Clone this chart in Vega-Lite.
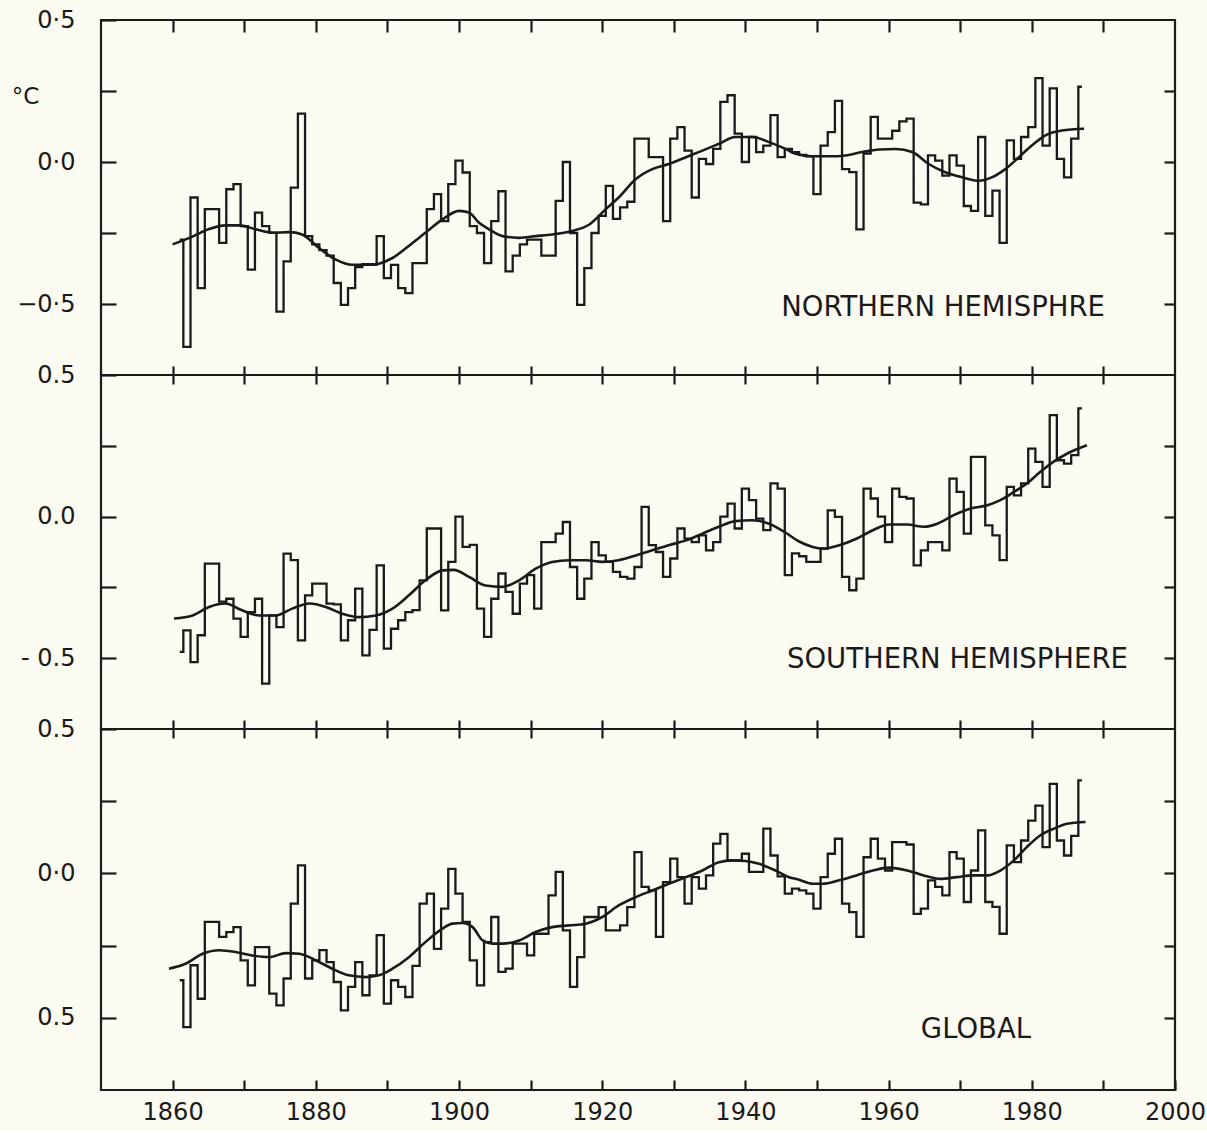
{
  "$schema": "https://vega.github.io/schema/vega-lite/v6.json",
  "background": "#fcfbf2",
  "padding": {"left": 10, "top": 6, "right": 5, "bottom": 5},
  "spacing": 0,
  "bounds": "flush",
  "config": {
    "view": {"stroke": "#1a1a1a", "strokeWidth": 2.2},
    "axis": {"domain": false, "grid": false, "tickColor": "#1a1a1a", "tickWidth": 2.2, "labelColor": "#1a1a1a", "labelFont": "DejaVu Sans", "titleFont": "DejaVu Sans", "titleColor": "#1a1a1a", "titleFontWeight": "normal"},
    "line": {"stroke": "#1a1a1a"},
    "text": {"font": "DejaVu Sans", "fill": "#1a1a1a"}
  },
  "datasets": {
    "nh": [
      {"year":1861,"t":-0.273},{"year":1862,"t":-0.651},{"year":1863,"t":-0.125},{"year":1864,"t":-0.444},{"year":1865,"t":-0.166},{"year":1866,"t":-0.166},{"year":1867,"t":-0.285},{"year":1868,"t":-0.096},{"year":1869,"t":-0.078},{"year":1870,"t":-0.226},
      {"year":1871,"t":-0.379},{"year":1872,"t":-0.178},{"year":1873,"t":-0.226},{"year":1874,"t":-0.249},{"year":1875,"t":-0.527},{"year":1876,"t":-0.35},{"year":1877,"t":-0.09},{"year":1878,"t":0.17},{"year":1879,"t":-0.261},{"year":1880,"t":-0.29},
      {"year":1881,"t":-0.31},{"year":1882,"t":-0.33},{"year":1883,"t":-0.426},{"year":1884,"t":-0.503},{"year":1885,"t":-0.444},{"year":1886,"t":-0.37},{"year":1887,"t":-0.36},{"year":1888,"t":-0.36},{"year":1889,"t":-0.261},{"year":1890,"t":-0.409},
      {"year":1891,"t":-0.362},{"year":1892,"t":-0.444},{"year":1893,"t":-0.462},{"year":1894,"t":-0.356},{"year":1895,"t":-0.356},{"year":1896,"t":-0.166},{"year":1897,"t":-0.113},{"year":1898,"t":-0.208},{"year":1899,"t":-0.078},{"year":1900,"t":0.005},
      {"year":1901,"t":-0.037},{"year":1902,"t":-0.226},{"year":1903,"t":-0.25},{"year":1904,"t":-0.356},{"year":1905,"t":-0.208},{"year":1906,"t":-0.103},{"year":1907,"t":-0.385},{"year":1908,"t":-0.33},{"year":1909,"t":-0.29},{"year":1910,"t":-0.273},
      {"year":1911,"t":-0.273},{"year":1912,"t":-0.33},{"year":1913,"t":-0.33},{"year":1914,"t":-0.137},{"year":1915,"t":0.0},{"year":1916,"t":-0.25},{"year":1917,"t":-0.503},{"year":1918,"t":-0.374},{"year":1919,"t":-0.25},{"year":1920,"t":-0.19},
      {"year":1921,"t":-0.084},{"year":1922,"t":-0.2},{"year":1923,"t":-0.16},{"year":1924,"t":-0.14},{"year":1925,"t":0.082},{"year":1926,"t":0.082},{"year":1927,"t":0.017},{"year":1928,"t":0.017},{"year":1929,"t":-0.208},{"year":1930,"t":0.082},
      {"year":1931,"t":0.123},{"year":1932,"t":0.04},{"year":1933,"t":-0.125},{"year":1934,"t":0.011},{"year":1935,"t":-0.007},{"year":1936,"t":0.046},{"year":1937,"t":0.212},{"year":1938,"t":0.235},{"year":1939,"t":0.1},{"year":1940,"t":0.0},
      {"year":1941,"t":0.088},{"year":1942,"t":0.035},{"year":1943,"t":0.058},{"year":1944,"t":0.165},{"year":1945,"t":0.017},{"year":1946,"t":0.046},{"year":1947,"t":0.035},{"year":1948,"t":0.025},{"year":1949,"t":0.02},{"year":1950,"t":-0.113},
      {"year":1951,"t":0.058},{"year":1952,"t":0.105},{"year":1953,"t":0.215},{"year":1954,"t":-0.025},{"year":1955,"t":-0.036},{"year":1956,"t":-0.237},{"year":1957,"t":0.03},{"year":1958,"t":0.159},{"year":1959,"t":0.082},{"year":1960,"t":0.082},
      {"year":1961,"t":0.11},{"year":1962,"t":0.143},{"year":1963,"t":0.153},{"year":1964,"t":-0.143},{"year":1965,"t":-0.149},{"year":1966,"t":0.023},{"year":1967,"t":0.005},{"year":1968,"t":-0.048},{"year":1969,"t":0.023},{"year":1970,"t":-0.013},
      {"year":1971,"t":-0.155},{"year":1972,"t":-0.172},{"year":1973,"t":0.088},{"year":1974,"t":-0.19},{"year":1975,"t":-0.101},{"year":1976,"t":-0.285},{"year":1977,"t":0.076},{"year":1978,"t":0.011},{"year":1979,"t":0.088},{"year":1980,"t":0.123},
      {"year":1981,"t":0.295},{"year":1982,"t":0.058},{"year":1983,"t":0.259},{"year":1984,"t":0.011},{"year":1985,"t":-0.054},{"year":1986,"t":0.082},{"year":1987,"t":0.265}
    ],
    "nh_smooth": [
      {"year":1860,"t":-0.29},{"year":1863,"t":-0.26},{"year":1865,"t":-0.237},{"year":1867.4,"t":-0.223},{"year":1869.3,"t":-0.223},{"year":1871.6,"t":-0.237},{"year":1873.9,"t":-0.249},{"year":1876.3,"t":-0.247},{"year":1878.1,"t":-0.255},{"year":1880.4,"t":-0.302},
      {"year":1882.8,"t":-0.344},{"year":1885.1,"t":-0.362},{"year":1887.9,"t":-0.362},{"year":1890.7,"t":-0.338},{"year":1893.5,"t":-0.285},{"year":1895.3,"t":-0.249},{"year":1897.7,"t":-0.202},{"year":1900,"t":-0.172},{"year":1901.4,"t":-0.178},{"year":1902.8,"t":-0.214},
      {"year":1904.2,"t":-0.237},{"year":1906.1,"t":-0.261},{"year":1908.4,"t":-0.267},{"year":1910.7,"t":-0.261},{"year":1913,"t":-0.255},{"year":1915.8,"t":-0.243},{"year":1918.2,"t":-0.22},{"year":1920.5,"t":-0.166},{"year":1922.3,"t":-0.125},{"year":1924.7,"t":-0.06},
      {"year":1927,"t":-0.025},{"year":1929.3,"t":-0.007},{"year":1931.7,"t":0.017},{"year":1934,"t":0.04},{"year":1936.3,"t":0.064},{"year":1938.6,"t":0.088},{"year":1941,"t":0.088},{"year":1943.3,"t":0.07},{"year":1945.6,"t":0.046},{"year":1947,"t":0.029},
      {"year":1949.4,"t":0.02},{"year":1951.7,"t":0.02},{"year":1954,"t":0.023},{"year":1956.3,"t":0.035},{"year":1958.7,"t":0.044},{"year":1961,"t":0.046},{"year":1963.3,"t":0.035},{"year":1965.6,"t":-0.007},{"year":1967.9,"t":-0.036},{"year":1970.3,"t":-0.054},
      {"year":1972.6,"t":-0.066},{"year":1974.4,"t":-0.054},{"year":1976.3,"t":-0.025},{"year":1978.2,"t":0.017},{"year":1980,"t":0.058},{"year":1981.9,"t":0.094},{"year":1984.2,"t":0.111},{"year":1987.3,"t":0.117}
    ],
    "sh": [
      {"year":1861,"t":-0.478},{"year":1862,"t":-0.402},{"year":1863,"t":-0.514},{"year":1864,"t":-0.419},{"year":1865,"t":-0.166},{"year":1866,"t":-0.166},{"year":1867,"t":-0.3},{"year":1868,"t":-0.29},{"year":1869,"t":-0.36},{"year":1870,"t":-0.425},
      {"year":1871,"t":-0.337},{"year":1872,"t":-0.29},{"year":1873,"t":-0.59},{"year":1874,"t":-0.349},{"year":1875,"t":-0.39},{"year":1876,"t":-0.131},{"year":1877,"t":-0.154},{"year":1878,"t":-0.437},{"year":1879,"t":-0.278},{"year":1880,"t":-0.237},
      {"year":1881,"t":-0.237},{"year":1882,"t":-0.307},{"year":1883,"t":-0.31},{"year":1884,"t":-0.437},{"year":1885,"t":-0.366},{"year":1886,"t":-0.254},{"year":1887,"t":-0.49},{"year":1888,"t":-0.4},{"year":1889,"t":-0.172},{"year":1890,"t":-0.466},
      {"year":1891,"t":-0.396},{"year":1892,"t":-0.366},{"year":1893,"t":-0.337},{"year":1894,"t":-0.33},{"year":1895,"t":-0.225},{"year":1896,"t":-0.042},{"year":1897,"t":-0.042},{"year":1898,"t":-0.331},{"year":1899,"t":-0.16},{"year":1900,"t":0.0},
      {"year":1901,"t":-0.107},{"year":1902,"t":-0.1},{"year":1903,"t":-0.325},{"year":1904,"t":-0.425},{"year":1905,"t":-0.29},{"year":1906,"t":-0.201},{"year":1907,"t":-0.266},{"year":1908,"t":-0.343},{"year":1909,"t":-0.237},{"year":1910,"t":-0.207},
      {"year":1911,"t":-0.325},{"year":1912,"t":-0.09},{"year":1913,"t":-0.09},{"year":1914,"t":-0.06},{"year":1915,"t":-0.019},{"year":1916,"t":-0.178},{"year":1917,"t":-0.29},{"year":1918,"t":-0.219},{"year":1919,"t":-0.09},{"year":1920,"t":-0.137},
      {"year":1921,"t":-0.16},{"year":1922,"t":-0.195},{"year":1923,"t":-0.213},{"year":1924,"t":-0.219},{"year":1925,"t":-0.178},{"year":1926,"t":0.034},{"year":1927,"t":-0.101},{"year":1928,"t":-0.125},{"year":1929,"t":-0.213},{"year":1930,"t":-0.148},
      {"year":1931,"t":-0.042},{"year":1932,"t":-0.078},{"year":1933,"t":-0.09},{"year":1934,"t":-0.066},{"year":1935,"t":-0.119},{"year":1936,"t":-0.09},{"year":1937,"t":0.0},{"year":1938,"t":0.046},{"year":1939,"t":-0.042},{"year":1940,"t":0.099},
      {"year":1941,"t":0.058},{"year":1942,"t":-0.007},{"year":1943,"t":-0.048},{"year":1944,"t":0.117},{"year":1945,"t":0.099},{"year":1946,"t":-0.207},{"year":1947,"t":-0.13},{"year":1948,"t":-0.14},{"year":1949,"t":-0.16},{"year":1950,"t":-0.16},
      {"year":1951,"t":-0.113},{"year":1952,"t":0.022},{"year":1953,"t":-0.001},{"year":1954,"t":-0.213},{"year":1955,"t":-0.26},{"year":1956,"t":-0.219},{"year":1957,"t":0.099},{"year":1958,"t":0.064},{"year":1959,"t":0.0},{"year":1960,"t":-0.09},
      {"year":1961,"t":0.099},{"year":1962,"t":0.07},{"year":1963,"t":0.064},{"year":1964,"t":-0.172},{"year":1965,"t":-0.119},{"year":1966,"t":-0.09},{"year":1967,"t":-0.09},{"year":1968,"t":-0.119},{"year":1969,"t":0.134},{"year":1970,"t":0.087},
      {"year":1971,"t":-0.06},{"year":1972,"t":0.211},{"year":1973,"t":0.211},{"year":1974,"t":-0.031},{"year":1975,"t":-0.066},{"year":1976,"t":-0.154},{"year":1977,"t":0.105},{"year":1978,"t":0.075},{"year":1979,"t":0.117},{"year":1980,"t":0.24},
      {"year":1981,"t":0.193},{"year":1982,"t":0.105},{"year":1983,"t":0.358},{"year":1984,"t":0.199},{"year":1985,"t":0.187},{"year":1986,"t":0.217},{"year":1987,"t":0.382}
    ],
    "sh_smooth": [
      {"year":1860.2,"t":-0.36},{"year":1862.8,"t":-0.349},{"year":1865.1,"t":-0.319},{"year":1867.4,"t":-0.307},{"year":1869.7,"t":-0.331},{"year":1872.1,"t":-0.349},{"year":1874.4,"t":-0.349},{"year":1876.7,"t":-0.325},{"year":1879.1,"t":-0.307},{"year":1881.4,"t":-0.319},
      {"year":1883.7,"t":-0.343},{"year":1886,"t":-0.355},{"year":1888.4,"t":-0.349},{"year":1890.7,"t":-0.325},{"year":1893,"t":-0.278},{"year":1895.3,"t":-0.225},{"year":1897.7,"t":-0.19},{"year":1899.3,"t":-0.188},{"year":1901.4,"t":-0.213},{"year":1903.7,"t":-0.243},
      {"year":1906.1,"t":-0.248},{"year":1908.4,"t":-0.225},{"year":1910.7,"t":-0.184},{"year":1913,"t":-0.16},{"year":1915.4,"t":-0.154},{"year":1917.7,"t":-0.154},{"year":1920,"t":-0.16},{"year":1922.3,"t":-0.154},{"year":1924.7,"t":-0.137},{"year":1927,"t":-0.119},
      {"year":1929.3,"t":-0.101},{"year":1931.7,"t":-0.084},{"year":1934,"t":-0.06},{"year":1936.3,"t":-0.036},{"year":1938.6,"t":-0.016},{"year":1941,"t":-0.013},{"year":1943.3,"t":-0.025},{"year":1945.5,"t":-0.055},{"year":1947.5,"t":-0.088},{"year":1949.4,"t":-0.107},
      {"year":1950.8,"t":-0.113},{"year":1953.1,"t":-0.101},{"year":1955.5,"t":-0.078},{"year":1957.8,"t":-0.048},{"year":1960.1,"t":-0.028},{"year":1962.6,"t":-0.028},{"year":1964.9,"t":-0.036},{"year":1966.8,"t":-0.025},{"year":1969.1,"t":0.005},{"year":1971.4,"t":0.028},
      {"year":1973.8,"t":0.04},{"year":1975.6,"t":0.058},{"year":1977.5,"t":0.087},{"year":1979.3,"t":0.117},{"year":1981.2,"t":0.158},{"year":1983,"t":0.193},{"year":1984.9,"t":0.222},{"year":1987.7,"t":0.252}
    ],
    "gl": [
      {"year":1861,"t":-0.37},{"year":1862,"t":-0.532},{"year":1863,"t":-0.318},{"year":1864,"t":-0.434},{"year":1865,"t":-0.168},{"year":1866,"t":-0.168},{"year":1867,"t":-0.22},{"year":1868,"t":-0.203},{"year":1869,"t":-0.186},{"year":1870,"t":-0.301},
      {"year":1871,"t":-0.388},{"year":1872,"t":-0.255},{"year":1873,"t":-0.255},{"year":1874,"t":-0.416},{"year":1875,"t":-0.457},{"year":1876,"t":-0.364},{"year":1877,"t":-0.105},{"year":1878,"t":0.028},{"year":1879,"t":-0.364},{"year":1880,"t":-0.301},
      {"year":1881,"t":-0.266},{"year":1882,"t":-0.307},{"year":1883,"t":-0.376},{"year":1884,"t":-0.474},{"year":1885,"t":-0.393},{"year":1886,"t":-0.307},{"year":1887,"t":-0.422},{"year":1888,"t":-0.353},{"year":1889,"t":-0.214},{"year":1890,"t":-0.451},
      {"year":1891,"t":-0.37},{"year":1892,"t":-0.393},{"year":1893,"t":-0.428},{"year":1894,"t":-0.32},{"year":1895,"t":-0.105},{"year":1896,"t":-0.07},{"year":1897,"t":-0.261},{"year":1898,"t":-0.122},{"year":1899,"t":0.016},{"year":1900,"t":-0.07},
      {"year":1901,"t":-0.168},{"year":1902,"t":-0.301},{"year":1903,"t":-0.388},{"year":1904,"t":-0.238},{"year":1905,"t":-0.151},{"year":1906,"t":-0.341},{"year":1907,"t":-0.33},{"year":1908,"t":-0.243},{"year":1909,"t":-0.243},{"year":1910,"t":-0.284},
      {"year":1911,"t":-0.209},{"year":1912,"t":-0.209},{"year":1913,"t":-0.076},{"year":1914,"t":0.005},{"year":1915,"t":-0.197},{"year":1916,"t":-0.393},{"year":1917,"t":-0.29},{"year":1918,"t":-0.151},{"year":1919,"t":-0.151},{"year":1920,"t":-0.117},
      {"year":1921,"t":-0.197},{"year":1922,"t":-0.197},{"year":1923,"t":-0.18},{"year":1924,"t":-0.117},{"year":1925,"t":0.074},{"year":1926,"t":-0.047},{"year":1927,"t":-0.059},{"year":1928,"t":-0.22},{"year":1929,"t":-0.03},{"year":1930,"t":0.051},
      {"year":1931,"t":-0.013},{"year":1932,"t":-0.105},{"year":1933,"t":-0.013},{"year":1934,"t":-0.053},{"year":1935,"t":-0.007},{"year":1936,"t":0.103},{"year":1937,"t":0.137},{"year":1938,"t":0.045},{"year":1939,"t":0.045},{"year":1940,"t":0.068},
      {"year":1941,"t":0.005},{"year":1942,"t":0.005},{"year":1943,"t":0.155},{"year":1944,"t":0.062},{"year":1945,"t":-0.01},{"year":1946,"t":-0.07},{"year":1947,"t":-0.053},{"year":1948,"t":-0.059},{"year":1949,"t":-0.07},{"year":1950,"t":-0.122},
      {"year":1951,"t":-0.013},{"year":1952,"t":0.068},{"year":1953,"t":0.12},{"year":1954,"t":-0.105},{"year":1955,"t":-0.134},{"year":1956,"t":-0.22},{"year":1957,"t":0.056},{"year":1958,"t":0.12},{"year":1959,"t":0.051},{"year":1960,"t":0.01},
      {"year":1961,"t":0.108},{"year":1962,"t":0.108},{"year":1963,"t":0.1},{"year":1964,"t":-0.14},{"year":1965,"t":-0.122},{"year":1966,"t":-0.024},{"year":1967,"t":-0.047},{"year":1968,"t":-0.076},{"year":1969,"t":0.074},{"year":1970,"t":0.051},
      {"year":1971,"t":-0.099},{"year":1972,"t":0.01},{"year":1973,"t":0.149},{"year":1974,"t":-0.099},{"year":1975,"t":-0.116},{"year":1976,"t":-0.209},{"year":1977,"t":0.097},{"year":1978,"t":0.039},{"year":1979,"t":0.114},{"year":1980,"t":0.183},
      {"year":1981,"t":0.235},{"year":1982,"t":0.091},{"year":1983,"t":0.31},{"year":1984,"t":0.114},{"year":1985,"t":0.062},{"year":1986,"t":0.13},{"year":1987,"t":0.322}
    ],
    "gl_smooth": [
      {"year":1859.5,"t":-0.33},{"year":1861.8,"t":-0.313},{"year":1864.2,"t":-0.278},{"year":1866.5,"t":-0.266},{"year":1868.8,"t":-0.272},{"year":1871.1,"t":-0.284},{"year":1873.5,"t":-0.29},{"year":1875.8,"t":-0.276},{"year":1877.7,"t":-0.278},{"year":1880,"t":-0.301},
      {"year":1882.3,"t":-0.33},{"year":1884.6,"t":-0.353},{"year":1887,"t":-0.359},{"year":1888.8,"t":-0.353},{"year":1890.7,"t":-0.33},{"year":1893,"t":-0.29},{"year":1895.3,"t":-0.238},{"year":1897.7,"t":-0.191},{"year":1899.1,"t":-0.174},{"year":1900.5,"t":-0.172},
      {"year":1901.9,"t":-0.186},{"year":1903.3,"t":-0.232},{"year":1904.7,"t":-0.243},{"year":1906.1,"t":-0.243},{"year":1908.4,"t":-0.232},{"year":1910.7,"t":-0.203},{"year":1913,"t":-0.186},{"year":1915.4,"t":-0.18},{"year":1917.7,"t":-0.174},{"year":1920,"t":-0.151},
      {"year":1922.3,"t":-0.111},{"year":1924.7,"t":-0.082},{"year":1927,"t":-0.059},{"year":1929.3,"t":-0.036},{"year":1931.7,"t":-0.013},{"year":1934,"t":0.01},{"year":1936.3,"t":0.039},{"year":1938.2,"t":0.045},{"year":1940,"t":0.043},{"year":1941.9,"t":0.033},
      {"year":1944.2,"t":0.01},{"year":1946.1,"t":-0.013},{"year":1947.5,"t":-0.022},{"year":1949.4,"t":-0.036},{"year":1950.8,"t":-0.036},{"year":1953.1,"t":-0.024},{"year":1955.5,"t":-0.007},{"year":1957.8,"t":0.01},{"year":1960.1,"t":0.02},{"year":1962.6,"t":0.01},
      {"year":1964.9,"t":-0.007},{"year":1967.2,"t":-0.019},{"year":1969.5,"t":-0.013},{"year":1971.9,"t":-0.007},{"year":1973.8,"t":-0.007},{"year":1975.6,"t":0.01},{"year":1977.5,"t":0.045},{"year":1979.3,"t":0.091},{"year":1981.2,"t":0.132},{"year":1983.1,"t":0.155},
      {"year":1984.9,"t":0.172},{"year":1987.5,"t":0.178}
    ]
  },
  "vconcat": [
    {
      "width": 1074, "height": 355,
      "layer": [
        {
          "data": {"name": "nh"},
          "mark": {"type": "line", "interpolate": "step", "strokeWidth": 2.3},
          "encoding": {
            "x": {"field": "year", "type": "quantitative", "scale": {"domain": [1850, 2000], "nice": false, "zero": false},
                  "axis": {"orient": "bottom", "values": [1860,1870,1880,1890,1900,1910,1920,1930,1940,1950,1960,1970,1980,1990], "labels": false, "tickSize": -9, "title": null}},
            "y": {"field": "t", "type": "quantitative", "scale": {"domain": [-0.75, 0.5], "nice": false, "zero": false},
                  "axis": {"orient": "left", "values": [-0.5, -0.25, 0, 0.25, 0.5], "tickSize": -15, "labelPadding": 41, "labelFontSize": 24,
                           "labelExpr": "datum.value == 0.5 ? '0·5' : datum.value == 0 ? '0·0' : datum.value == -0.5 ? '−0·5' : ''",
                           "title": "°C", "titleAngle": 0, "titleX": -76, "titleY": 76, "titleFontSize": 23, "titleAlign": "center", "titleBaseline": "middle"}}
          }
        },
        {
          "data": {"name": "nh_smooth"},
          "mark": {"type": "line", "interpolate": "monotone", "strokeWidth": 2.6},
          "encoding": {
            "x": {"field": "year", "type": "quantitative", "axis": {"orient": "top", "values": [1860,1870,1880,1890,1900,1910,1920,1930,1940,1950,1960,1970,1980,1990], "labels": false, "tickSize": -12, "title": null}},
            "y": {"field": "t", "type": "quantitative", "axis": {"orient": "right", "values": [-0.5, -0.25, 0, 0.25], "labels": false, "tickSize": -11, "title": null}}
          }
        },
        {
          "data": {"values": [{}]},
          "mark": {"type": "text", "text": "NORTHERN HEMISPHRE", "fontSize": 27.5, "align": "left", "baseline": "middle"},
          "encoding": {
            "x": {"datum": 1945, "type": "quantitative", "axis": null},
            "y": {"datum": -0.514, "type": "quantitative", "axis": null}
          }
        }
      ],
      "resolve": {"axis": {"x": "independent", "y": "independent"}}
    },
    {
      "width": 1074, "height": 354,
      "layer": [
        {
          "data": {"name": "sh"},
          "mark": {"type": "line", "interpolate": "step", "strokeWidth": 2.3},
          "encoding": {
            "x": {"field": "year", "type": "quantitative", "scale": {"domain": [1850, 2000], "nice": false, "zero": false},
                  "axis": {"orient": "bottom", "values": [1860,1870,1880,1890,1900,1910,1920,1930,1940,1950,1960,1970,1980,1990], "labels": false, "tickSize": -9, "title": null}},
            "y": {"field": "t", "type": "quantitative", "scale": {"domain": [-0.75, 0.5], "nice": false, "zero": false},
                  "axis": {"orient": "left", "values": [-0.5, -0.25, 0, 0.25, 0.5], "tickSize": -15, "labelPadding": 41, "labelFontSize": 24,
                           "labelExpr": "datum.value == 0.5 ? '0.5' : datum.value == 0 ? '0.0' : datum.value == -0.5 ? '- 0.5' : ''", "title": null}}
          }
        },
        {
          "data": {"name": "sh_smooth"},
          "mark": {"type": "line", "interpolate": "monotone", "strokeWidth": 2.6},
          "encoding": {
            "x": {"field": "year", "type": "quantitative", "axis": {"orient": "top", "values": [1860,1870,1880,1890,1900,1910,1920,1930,1940,1950,1960,1970,1980,1990], "labels": false, "tickSize": -9, "title": null}},
            "y": {"field": "t", "type": "quantitative", "axis": {"orient": "right", "values": [-0.5, -0.25, 0, 0.25], "labels": false, "tickSize": -11, "title": null}}
          }
        },
        {
          "data": {"values": [{}]},
          "mark": {"type": "text", "text": "SOUTHERN HEMISPHERE", "fontSize": 27.5, "align": "left", "baseline": "middle"},
          "encoding": {
            "x": {"datum": 1945.8, "type": "quantitative", "axis": null},
            "y": {"datum": -0.508, "type": "quantitative", "axis": null}
          }
        }
      ],
      "resolve": {"axis": {"x": "independent", "y": "independent"}}
    },
    {
      "width": 1074, "height": 361,
      "layer": [
        {
          "data": {"name": "gl"},
          "mark": {"type": "line", "interpolate": "step", "strokeWidth": 2.3},
          "encoding": {
            "x": {"field": "year", "type": "quantitative", "scale": {"domain": [1850, 2000], "nice": false, "zero": false},
                  "axis": {"orient": "bottom", "values": [1860,1870,1880,1890,1900,1910,1920,1930,1940,1950,1960,1970,1980,1990,2000], "format": "d", "labelExpr": "datum.value % 20 == 0 ? datum.label : ''", "labelFlush": false, "labelFontSize": 24, "labelPadding": 20, "tickSize": -10, "title": null}},
            "y": {"field": "t", "type": "quantitative", "scale": {"domain": [-0.75, 0.5], "nice": false, "zero": false},
                  "axis": {"orient": "left", "values": [-0.5, -0.25, 0, 0.25, 0.5], "tickSize": -15, "labelPadding": 41, "labelFontSize": 24,
                           "labelExpr": "datum.value == 0.5 ? '0.5' : datum.value == 0 ? '0·0' : datum.value == -0.5 ? '0.5' : ''", "title": null}}
          }
        },
        {
          "data": {"name": "gl_smooth"},
          "mark": {"type": "line", "interpolate": "monotone", "strokeWidth": 2.6},
          "encoding": {
            "x": {"field": "year", "type": "quantitative", "axis": {"orient": "top", "values": [1860,1870,1880,1890,1900,1910,1920,1930,1940,1950,1960,1970,1980,1990], "labels": false, "tickSize": -9, "title": null}},
            "y": {"field": "t", "type": "quantitative", "axis": {"orient": "right", "values": [-0.5, -0.25, 0, 0.25], "labels": false, "tickSize": -11, "title": null}}
          }
        },
        {
          "data": {"values": [{}]},
          "mark": {"type": "text", "text": "GLOBAL", "fontSize": 27.5, "align": "left", "baseline": "middle"},
          "encoding": {
            "x": {"datum": 1964.5, "type": "quantitative", "axis": null},
            "y": {"datum": -0.543, "type": "quantitative", "axis": null}
          }
        }
      ],
      "resolve": {"axis": {"x": "independent", "y": "independent"}}
    }
  ]
}
